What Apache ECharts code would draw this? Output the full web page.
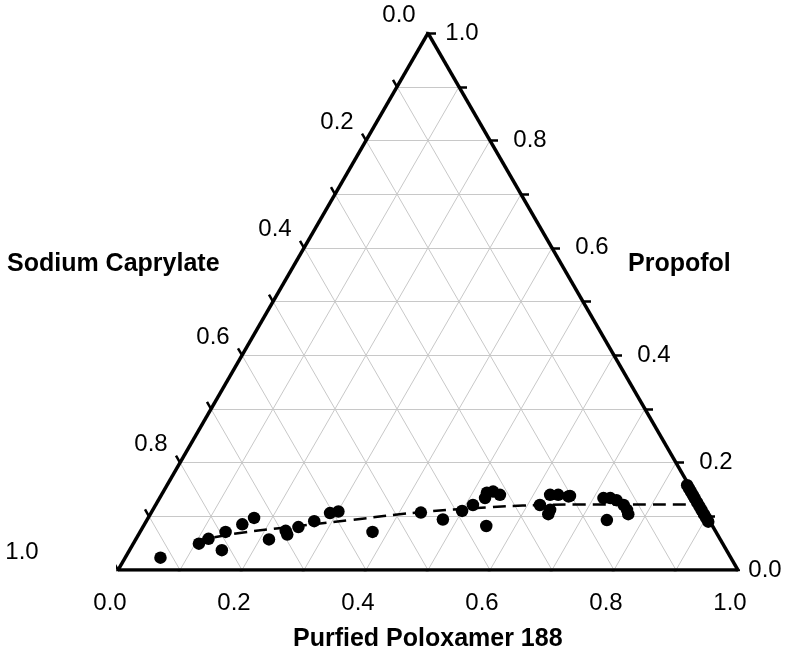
<!DOCTYPE html>
<html>
<head>
<meta charset="utf-8">
<script src="https://cdn.jsdelivr.net/npm/echarts@6/dist/echarts.min.js"></script>
<style>
html,body{margin:0;padding:0;background:#fff;}
#chart{width:800px;height:664px;}
</style>
</head>
<body>
<div id="chart"></div>
<script>
// ---- Data (ternary fractions) ----
const axisTitles = ["Purfied Poloxamer 188", "Propofol", "Sodium Caprylate"];
const tickValues = [0.0, 0.2, 0.4, 0.6, 0.8, 1.0];
const minorTicks = [0.0, 0.1, 0.2, 0.3, 0.4, 0.5, 0.6, 0.7, 0.8, 0.9, 1.0];
const gridValues = [0.1, 0.2, 0.3, 0.4, 0.5, 0.6, 0.7, 0.8, 0.9];

// measured points: poloxamer fraction, propofol fraction
const pointPoloxamer = [0.057, 0.106, 0.117, 0.149, 0.138, 0.158, 0.171, 0.215, 0.234, 0.240, 0.251, 0.271, 0.289, 0.301,
  0.375, 0.435, 0.477, 0.500, 0.512, 0.525, 0.523, 0.553, 0.532, 0.546,
  0.620, 0.627, 0.640, 0.658, 0.641, 0.642, 0.660,
  0.716, 0.727, 0.739, 0.755, 0.765, 0.771, 0.742,
  0.839, 0.845, 0.851, 0.857, 0.864, 0.871, 0.878, 0.885, 0.893, 0.900, 0.907];
const pointPropofol = [0.023, 0.049, 0.058, 0.037, 0.071, 0.085, 0.097, 0.057, 0.073, 0.066, 0.080, 0.091, 0.106, 0.109,
  0.071, 0.107, 0.094, 0.110, 0.121, 0.134, 0.144, 0.082, 0.146, 0.140,
  0.121, 0.140, 0.140, 0.137, 0.112, 0.104, 0.138,
  0.134, 0.134, 0.130, 0.121, 0.112, 0.104, 0.093,
  0.158, 0.152, 0.146, 0.140, 0.133, 0.126, 0.119, 0.112, 0.104, 0.097, 0.090];

// dashed boundary curve
const curvePoloxamer = [0.097, 0.162, 0.237, 0.328, 0.429, 0.542, 0.593, 0.684, 0.878];
const curvePropofol  = [0.054, 0.069, 0.080, 0.093, 0.107, 0.117, 0.120, 0.122, 0.122];

// ---- Geometry helpers ----
const H = Math.sqrt(3) / 2;
const PX = 1 / 620; // one pixel in data units (grid is 620 px wide)
function tern(p, c) { return [p + c / 2, c * H]; }
function bottomPt(v) { return tern(v, 0); }
function rightPt(v) { return tern(1 - v, v); }
function leftPt(v) { return tern(0, 1 - v); }
function add(a, dx, dy) { return [a[0] + dx * PX, a[1] + dy * PX]; }

// grid lines
const gridLines = [];
gridValues.forEach(v => {
  gridLines.push({coords: [tern(0, v), tern(1 - v, v)]});       // constant propofol
  gridLines.push({coords: [tern(v, 0), tern(v, 1 - v)]});       // constant poloxamer
  gridLines.push({coords: [tern(1 - v, 0), tern(0, 1 - v)]});   // constant caprylate
});
const edges = [
  {coords: [tern(0, 0), tern(1, 0)]},
  {coords: [tern(1, 0), tern(0, 1)]},
  {coords: [tern(0, 1), tern(0, 0)]}
];
// ticks, outward along grid line direction
const TL = 8;
const ticks = [];
minorTicks.forEach(v => {
  const b = bottomPt(v); ticks.push({coords: [b, add(b, -0.5 * TL, -H * TL)]});
  const r = rightPt(v); ticks.push({coords: [r, add(r, TL, 0)]});
  const l = leftPt(v); ticks.push({coords: [l, add(l, -0.5 * TL, H * TL)]});
});

const fmt = v => v.toFixed(1);
function labelOffset(axis, v) {
  if (axis === 'bottom') return [-8, -33];
  if (axis === 'right') return v === 0 ? [27, 0] : (v === 1 ? [34, 0] : [40, 0]);
  return v === 1 ? [-96, 18] : [-29, 18];
}
const bottomLabels = tickValues.map(v => ({value: add(bottomPt(v), ...labelOffset('bottom', v)), name: fmt(v)}));
const rightLabels = tickValues.map(v => ({value: add(rightPt(v), ...labelOffset('right', v)), name: fmt(v)}));
const leftLabels = tickValues.map(v => ({value: add(leftPt(v), ...labelOffset('left', v)), name: fmt(v)}));

const points = pointPoloxamer.map((p, i) => tern(p, pointPropofol[i]));
const curve = curvePoloxamer.map((p, i) => tern(p, curvePropofol[i]));

const chart = echarts.init(document.getElementById('chart'), null, {renderer: 'canvas'});
const FONT = '"Liberation Sans", Arial, sans-serif';
const labelSeries = (data) => ({
  type: 'scatter', data: data, symbolSize: 1, silent: true, z: 5, clip: false,
  itemStyle: {opacity: 0},
  labelLayout: {hideOverlap: false},
  label: {show: true, position: 'inside', formatter: d => d.name, color: '#000',
          fontSize: 24, fontFamily: FONT, opacity: 1}
});

chart.setOption({
  animation: false,
  backgroundColor: '#fff',
  grid: {left: 118, top: 570 - 620 * H, width: 620, height: 620 * H, containLabel: false},
  xAxis: {type: 'value', min: 0, max: 1, show: false},
  yAxis: {type: 'value', min: 0, max: H, show: false},
  graphic: [
    {type: 'text', left: 7, top: 252, style: {text: axisTitles[2], font: 'bold 25px ' + FONT, fill: '#000'}},
    {type: 'text', left: 628, top: 252, style: {text: axisTitles[1], font: 'bold 25px ' + FONT, fill: '#000'}},
    {type: 'text', left: 293, top: 627, style: {text: axisTitles[0], font: 'bold 25px ' + FONT, fill: '#000'}}
  ],
  series: [
    {type: 'lines', coordinateSystem: 'cartesian2d', polyline: false, silent: true, z: 1,
     lineStyle: {color: '#c8c8c8', width: 1, opacity: 1}, data: gridLines},
    {type: 'lines', coordinateSystem: 'cartesian2d', polyline: false, silent: true, z: 3,
     lineStyle: {color: '#000', width: 3.5, opacity: 1}, data: edges},
    {type: 'lines', coordinateSystem: 'cartesian2d', polyline: false, silent: true, z: 3,
     lineStyle: {color: '#000', width: 2.5, opacity: 1}, data: ticks},
    labelSeries(bottomLabels), labelSeries(rightLabels), labelSeries(leftLabels),
    {type: 'line', data: curve, smooth: true, showSymbol: false, z: 4, clip: false,
     lineStyle: {color: '#000', width: 2.5, type: [13, 7]}},
    {type: 'scatter', data: points, symbol: 'circle', symbolSize: 12.5, z: 6, clip: false,
     itemStyle: {color: '#000', opacity: 1}}
  ]
});
</script>
</body>
</html>
